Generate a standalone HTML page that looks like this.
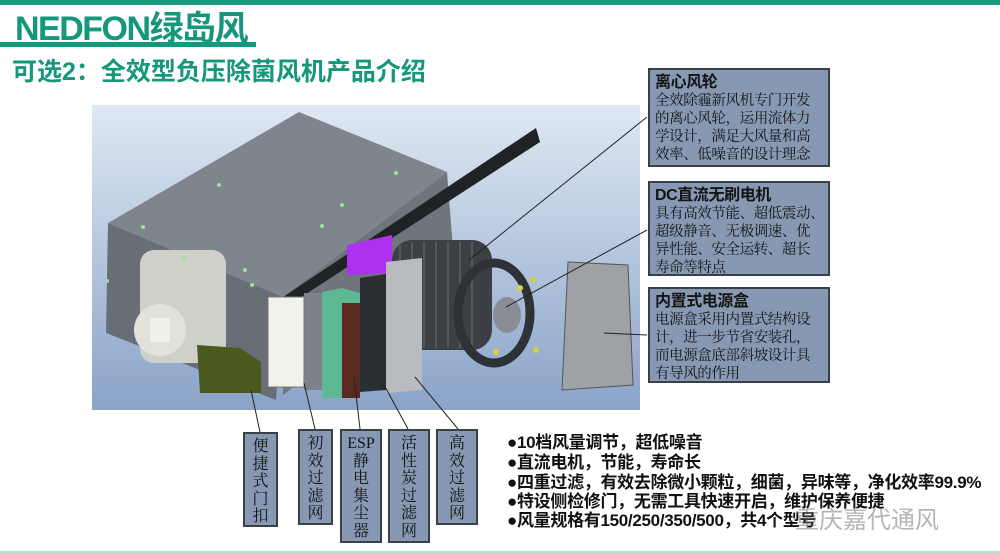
<!DOCTYPE html>
<html><head><meta charset="utf-8"><style>
*{margin:0;padding:0;box-sizing:border-box}
body{width:1000px;height:554px;background:#fff;position:relative;overflow:hidden;font-family:"Liberation Sans","Noto Sans CJK SC",sans-serif}
.abs{position:absolute}
.rb{position:absolute;left:648px;width:182px;background:#8798b3;border:2px solid #3a3f48;padding:3px 5px;font-family:"Liberation Serif","Noto Serif CJK SC",serif;color:#141414;font-size:14.5px;line-height:18px;letter-spacing:-0.4px;white-space:nowrap;overflow:hidden}
.rb b{font-family:"Liberation Sans","Noto Sans CJK SC",sans-serif;font-size:16px;display:block;line-height:19px}
.vb{position:absolute;top:430px;background:#8798b3;border:2px solid #3a3f48;font-family:"Liberation Serif","Noto Serif CJK SC",serif;font-size:16px;line-height:17.5px;text-align:center;padding-top:4px;color:#141414}
.bl{position:absolute;left:507px;font-weight:bold;font-size:17px;color:#111;white-space:nowrap;letter-spacing:-0.3px}
</style></head><body>
<div class="abs" style="left:0;top:0;width:1000px;height:5px;background:#1a9a7c"></div>
<div class="abs" style="left:15px;top:6px;font-size:34px;font-weight:bold;color:#14977a;letter-spacing:-1.5px;line-height:40px">NEDFON<span style="font-family:'Noto Sans CJK SC',sans-serif">绿岛风</span></div>
<div class="abs" style="left:0;top:42px;width:256px;height:5px;background:#14977a"></div>
<div class="abs" style="left:12px;top:56px;font-size:25px;font-weight:bold;color:#14977a;line-height:32px;font-family:'Liberation Sans','Noto Sans CJK SC',sans-serif">可选2：全效型负压除菌风机产品介绍</div>

<svg class="abs" style="left:0;top:0" width="1000" height="554">
<defs><linearGradient id="bg" x1="0" y1="0" x2="0" y2="1"><stop offset="0" stop-color="#dfe8f3"/><stop offset="1" stop-color="#8aa3c8"/></linearGradient></defs>
<rect x="92" y="105" width="548" height="305" fill="url(#bg)"/>
<polygon points="283,297 447,172 454,262 283,395" fill="#6f757d"/>
<polygon points="108,223 299,112 447,172 283,297" fill="#7f858c"/>
<polygon points="108,223 283,297 276,400 106,333" fill="#686e76"/>
<rect x="140" y="250" width="86" height="113" rx="14" fill="#cfd0c8"/>
<ellipse cx="160" cy="330" rx="26" ry="26" fill="#e2e2da"/>
<rect x="150" y="318" width="20" height="24" fill="#f0f0ea"/>
<polygon points="283,297 536,128 540,142 292,303" fill="#1e2426"/>
<polygon points="347,245 392,235 392,273 347,275" fill="#b030f0"/>
<rect x="392" y="240" width="100" height="110" rx="20" fill="#3c3f44"/>
<g stroke="#55595e" stroke-width="2"><line x1="400" y1="245" x2="400" y2="345"/><line x1="412" y1="242" x2="412" y2="348"/><line x1="424" y1="242" x2="424" y2="348"/><line x1="436" y1="242" x2="436" y2="348"/><line x1="448" y1="242" x2="448" y2="348"/><line x1="460" y1="242" x2="460" y2="348"/><line x1="472" y1="242" x2="472" y2="348"/></g>
<ellipse cx="494" cy="313" rx="36" ry="50" fill="none" stroke="#2e3135" stroke-width="9"/>
<ellipse cx="507" cy="315" rx="14" ry="18" fill="#8a8e94"/>
<g fill="#d8d040"><circle cx="533" cy="280" r="3"/><circle cx="520" cy="288" r="3"/><circle cx="536" cy="350" r="3"/><circle cx="496" cy="352" r="3"/></g>
<polygon points="386,262 422,258 422,390 386,393" fill="#b8bbbf"/>
<polygon points="360,278 386,274 386,390 360,392" fill="#2b2e32"/>
<polygon points="322,292 342,288 360,293 360,398 322,398" fill="#5fb894"/>
<rect x="342" y="303" width="18" height="95" fill="#5a2a22"/>
<rect x="304" y="293" width="18" height="97" fill="#7d828a"/>
<rect x="268" y="297" width="36" height="90" fill="#f2f2ea" stroke="#777"/>
<polygon points="197,345 240,348 261,362 261,393 200,393" fill="#4a5a1e"/>
<polygon points="568,262 628,265 633,385 562,390" fill="#9ea2a7" stroke="#555"/>
<g fill="#9ee0a0"><circle cx="219" cy="185" r="2"/><circle cx="396" cy="173" r="2"/><circle cx="342" cy="205" r="2"/><circle cx="322" cy="226" r="2"/><circle cx="143" cy="227" r="2"/><circle cx="184" cy="257" r="2"/><circle cx="245" cy="270" r="2"/><circle cx="252" cy="285" r="2"/><circle cx="107" cy="281" r="2"/></g>
<g stroke="#222" stroke-width="1" fill="none">
<line x1="647" y1="117" x2="469" y2="260"/>
<line x1="647" y1="230" x2="506" y2="307"/>
<line x1="647" y1="335" x2="604" y2="333"/>
<line x1="251" y1="390" x2="260" y2="432"/>
<line x1="304" y1="383" x2="315" y2="429"/>
<line x1="354" y1="377" x2="360" y2="429"/>
<line x1="383" y1="383" x2="408" y2="429"/>
<line x1="415" y1="377" x2="458" y2="429"/>
</g>
</svg>

<div class="rb" style="top:68px;height:99px"><b>离心风轮</b>全效除霾新风机专门开发<br>的离心风轮，运用流体力<br>学设计，满足大风量和高<br>效率、低噪音的设计理念</div>
<div class="rb" style="top:181px;height:95px"><b>DC直流无刷电机</b>具有高效节能、超低震动、<br>超级静音、无极调速、优<br>异性能、安全运转、超长<br>寿命等特点</div>
<div class="rb" style="top:287px;height:96px"><b>内置式电源盒</b>电源盒采用内置式结构设<br>计，进一步节省安装孔，<br>而电源盒底部斜坡设计具<br>有导风的作用</div>

<div class="vb" style="left:243px;width:35px;top:432px;height:95px">便<br>捷<br>式<br>门<br>扣</div>
<div class="vb" style="left:298px;width:35px;top:429px;height:96px">初<br>效<br>过<br>滤<br>网</div>
<div class="vb" style="left:340px;width:42px;top:429px;height:114px">ESP<br>静<br>电<br>集<br>尘<br>器</div>
<div class="vb" style="left:388px;width:42px;top:429px;height:114px">活<br>性<br>炭<br>过<br>滤<br>网</div>
<div class="vb" style="left:436px;width:42px;top:429px;height:96px">高<br>效<br>过<br>滤<br>网</div>

<div class="bl" style="top:428px">●10档风量调节，超低噪音</div>
<div class="bl" style="top:448px">●直流电机，节能，寿命长</div>
<div class="bl" style="top:468px">●四重过滤，有效去除微小颗粒，细菌，异味等，净化效率99.9%</div>
<div class="bl" style="top:487px">●特设侧检修门，无需工具快速开启，维护保养便捷</div>
<div class="bl" style="top:506px">●风量规格有150/250/350/500，共4个型号</div>
<div class="abs" style="left:795px;top:500px;font-size:24px;color:rgba(120,120,120,0.55)">重庆嘉代通风</div>
<div class="abs" style="left:0;top:551px;width:1000px;height:3px;background:#b8dcd4"></div>
</body></html>
